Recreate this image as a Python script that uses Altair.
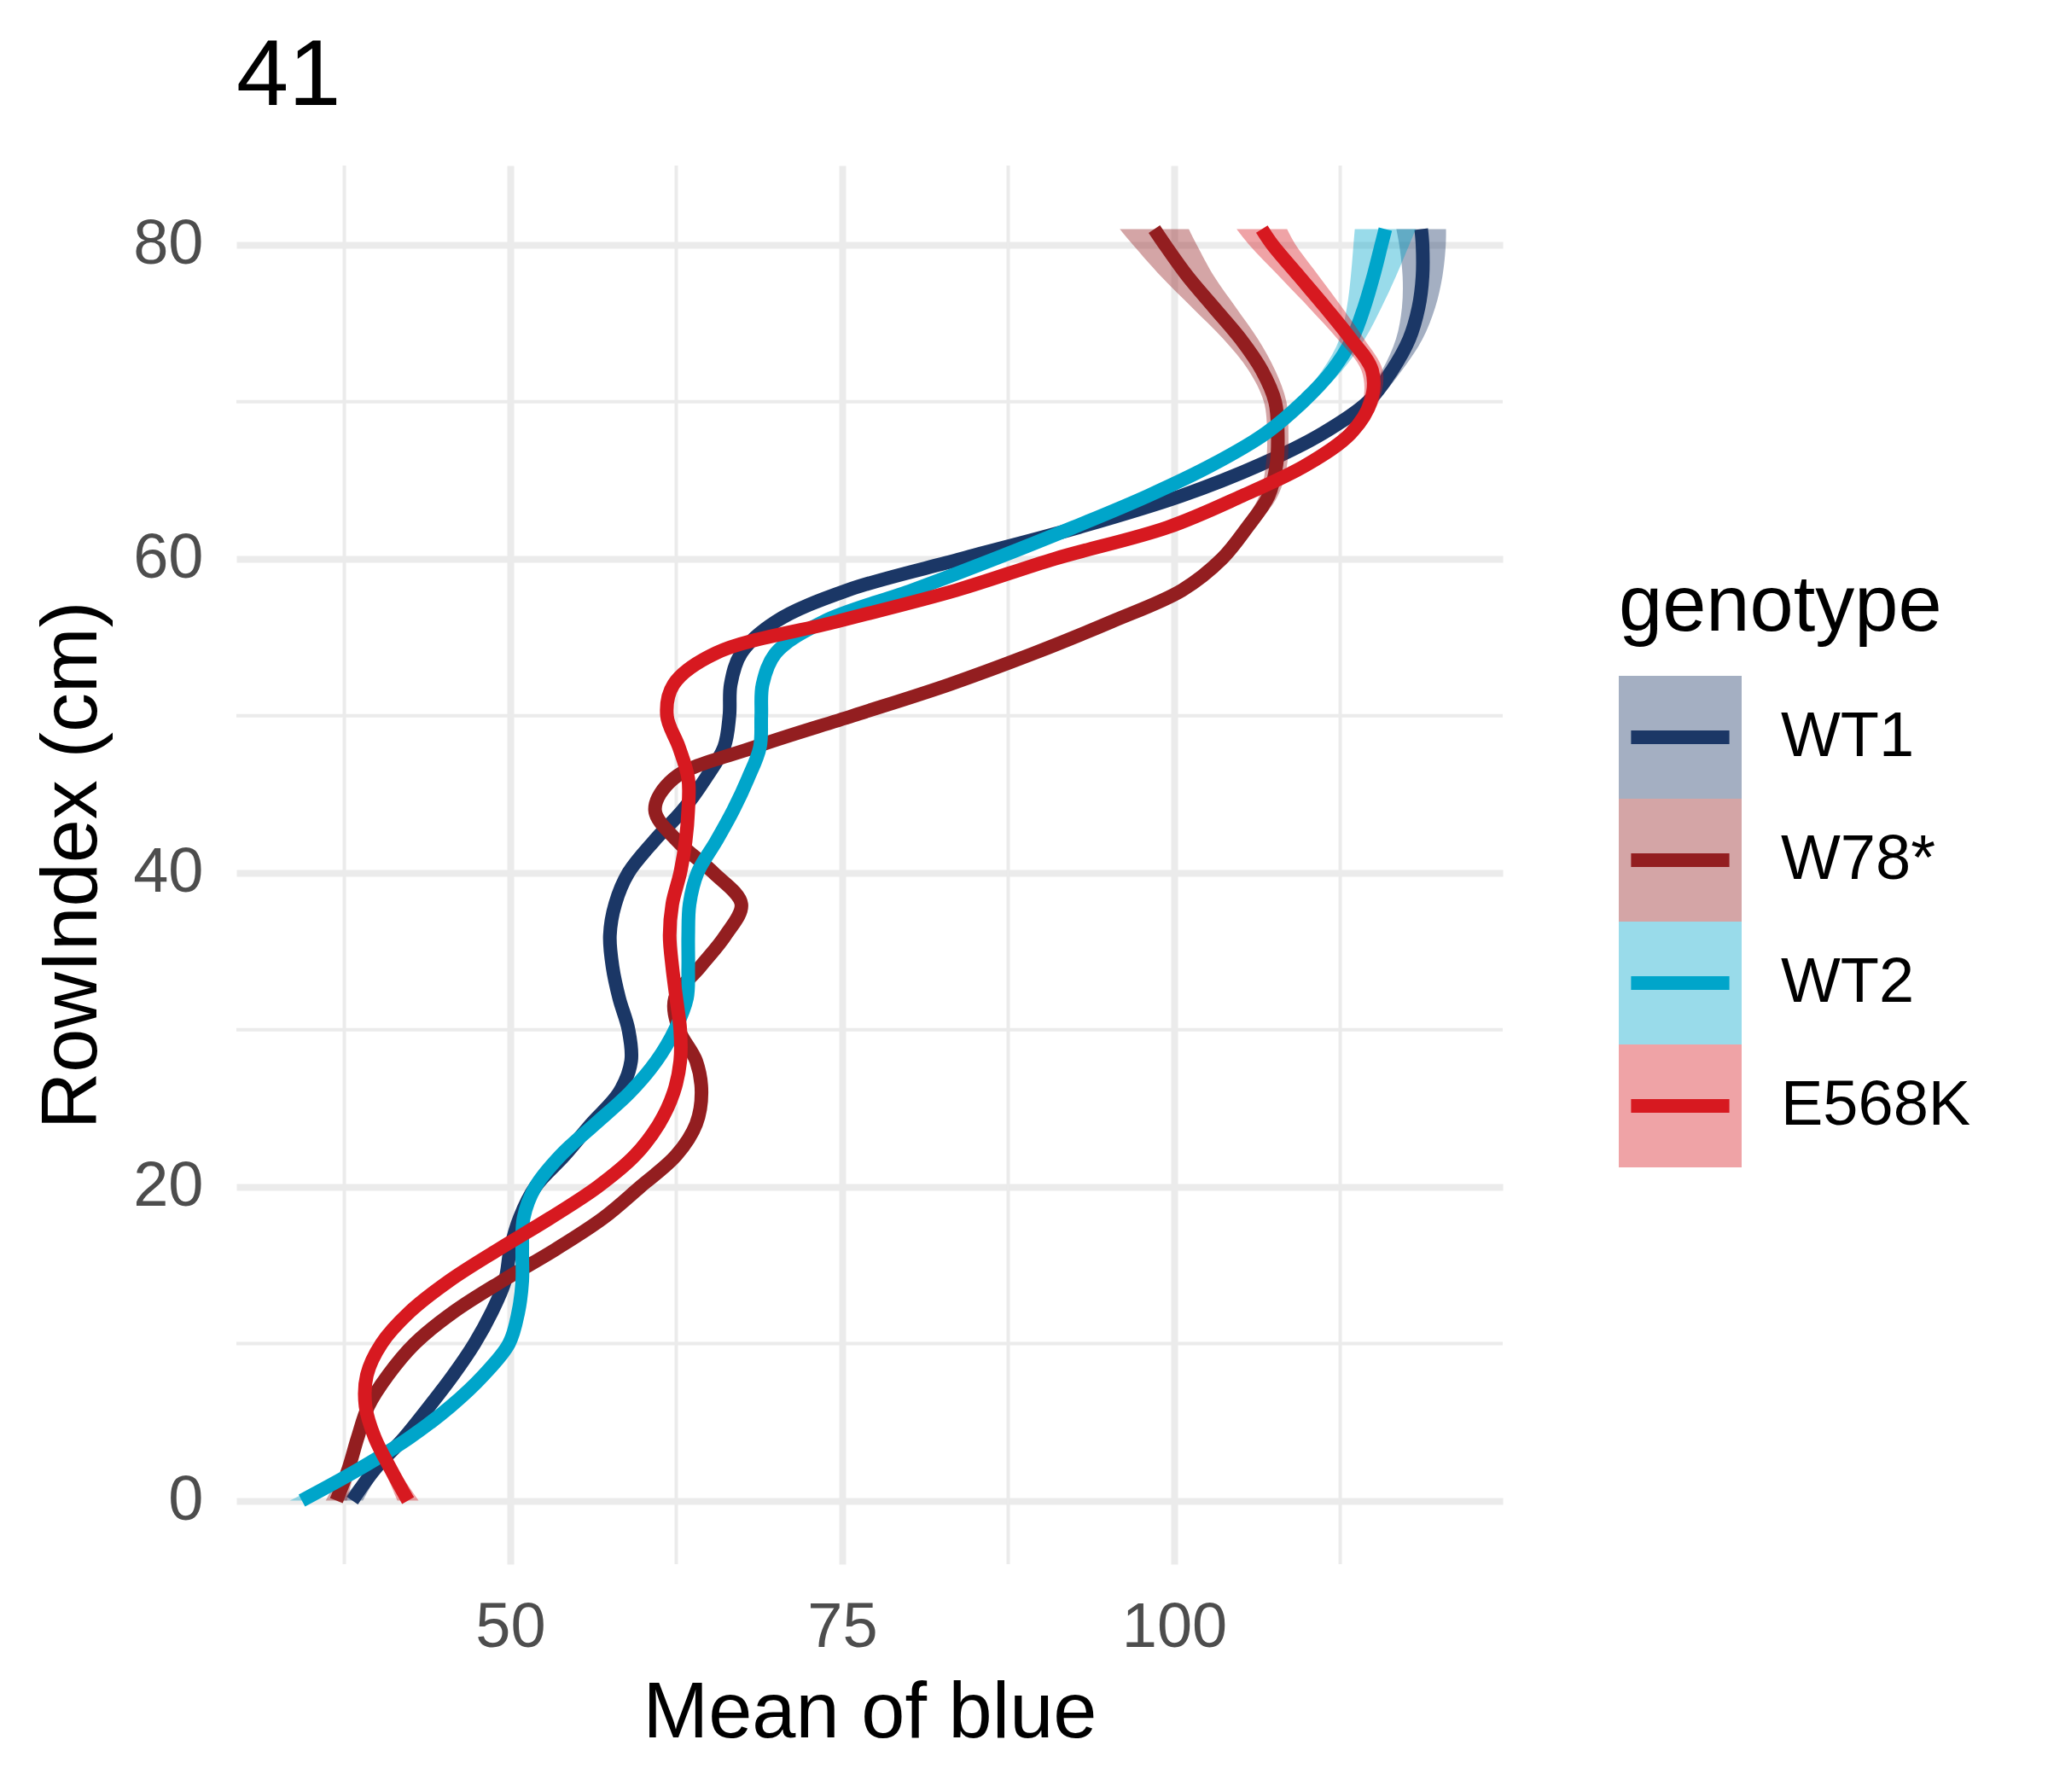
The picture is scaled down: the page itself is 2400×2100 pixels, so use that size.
import altair as alt
import pandas as pd

FONT = "Liberation Sans"

GENOTYPES = ["WT1", "W78*", "WT2", "E568K"]
COLORS = ["#1B3766", "#931E20", "#00A5CA", "#D71920"]

ROW_INDEX = [0, 2, 4, 6, 8, 10, 12, 14, 16, 18, 20, 22, 24, 26, 28, 30, 32, 34, 36, 38, 40,
             42, 44, 46, 48, 50, 52, 54, 56, 58, 60, 62, 64, 66, 68, 70, 72, 74, 76, 78, 80, 81]

WT1 = [38.1, 39.8, 42.0, 43.9, 45.7, 47.3, 48.6, 49.6, 50.0, 50.7, 51.9, 54.1, 56.1, 58.2, 59.1, 58.9,
       58.2, 57.7, 57.5, 57.9, 58.9, 60.8, 63.0, 64.7, 66.1, 66.5, 66.6, 67.4, 70.0, 75.4, 84.0,
       92.8, 100.5, 106.5, 111.2, 114.6, 116.4, 117.7, 118.4, 118.7, 118.7, 118.6]
W78 = [36.9, 37.8, 38.5, 39.3, 40.8, 42.8, 45.7, 49.4, 53.4, 57.0, 59.8, 62.5, 64.0, 64.4, 64.0, 62.7,
       62.4, 64.3, 66.2, 67.4, 65.3, 62.6, 60.9, 62.3, 68.4, 75.8, 83.1, 89.5, 95.3, 100.6, 103.6,
       105.5, 107.1, 107.7, 107.8, 107.6, 106.6, 105.0, 103.0, 101.0, 99.3, 98.5]
WT2 = [34.3, 38.6, 42.4, 45.5, 48.0, 49.9, 50.6, 50.9, 50.9, 51.0, 51.9, 53.8, 56.4, 59.0, 61.0, 62.4,
       63.3, 63.4, 63.4, 63.5, 64.1, 65.5, 66.8, 67.9, 68.8, 68.9, 69.0, 70.0, 73.6, 80.3, 86.5,
       92.4, 98.0, 102.9, 106.9, 109.7, 111.9, 113.4, 114.3, 115.0, 115.6, 115.9]
E568K = [42.3, 41.0, 39.8, 39.1, 39.2, 40.3, 42.4, 45.4, 49.1, 53.0, 56.6, 59.4, 61.2, 62.3, 62.8, 62.8,
         62.5, 62.2, 62.0, 62.2, 62.8, 63.2, 63.4, 63.4, 62.7, 61.8, 62.3, 65.5, 74.6, 83.6, 91.0,
         99.5, 105.1, 110.0, 113.3, 114.8, 114.9, 113.3, 111.4, 109.4, 107.4, 106.6]

# half-width of the confidence ribbon at each RowIndex
SE_WT1 = [0.8, 0.5, 0.35, 0.3, 0.3, 0.3, 0.3, 0.3, 0.3, 0.3, 0.3, 0.3, 0.3, 0.3, 0.3, 0.3,
          0.3, 0.3, 0.3, 0.3, 0.3, 0.3, 0.3, 0.3, 0.3, 0.3, 0.3, 0.3, 0.3, 0.3, 0.3,
          0.3, 0.35, 0.4, 0.45, 0.55, 0.75, 1.0, 1.25, 1.5, 1.75, 1.87]
SE_W78 = [0.8, 0.5, 0.35, 0.3, 0.3, 0.3, 0.3, 0.3, 0.3, 0.3, 0.3, 0.3, 0.3, 0.3, 0.3, 0.3,
          0.3, 0.3, 0.3, 0.3, 0.3, 0.3, 0.3, 0.3, 0.3, 0.3, 0.3, 0.3, 0.3, 0.35, 0.4,
          0.55, 0.7, 0.8, 0.8, 0.85, 1.0, 1.3, 1.65, 2.0, 2.4, 2.6]
SE_WT2 = [0.9, 0.55, 0.4, 0.3, 0.3, 0.3, 0.3, 0.3, 0.3, 0.3, 0.3, 0.3, 0.3, 0.3, 0.3, 0.3,
          0.3, 0.3, 0.3, 0.3, 0.3, 0.3, 0.3, 0.3, 0.3, 0.3, 0.3, 0.3, 0.3, 0.3, 0.3,
          0.3, 0.35, 0.4, 0.45, 0.55, 0.75, 0.95, 1.3, 1.7, 2.1, 2.3]
SE_E568K = [0.8, 0.5, 0.35, 0.3, 0.3, 0.3, 0.3, 0.3, 0.3, 0.3, 0.3, 0.3, 0.3, 0.3, 0.3, 0.3,
            0.3, 0.3, 0.3, 0.3, 0.3, 0.3, 0.3, 0.3, 0.3, 0.3, 0.3, 0.3, 0.3, 0.3, 0.3,
            0.35, 0.4, 0.45, 0.5, 0.6, 0.8, 1.0, 1.25, 1.5, 1.75, 1.9]

X_TICKS = [50, 75, 100]
Y_TICKS = [0, 20, 40, 60, 80]
X_MINOR = [37.5, 62.5, 87.5, 112.5]
Y_MINOR = [10, 30, 50, 70]

rows = []
for g, xs, ses in zip(GENOTYPES, [WT1, W78, WT2, E568K], [SE_WT1, SE_W78, SE_WT2, SE_E568K]):
    for y, x, s in zip(ROW_INDEX, xs, ses):
        rows.append({"genotype": g, "RowIndex": y, "blue": x, "lo": x - s, "hi": x + s})
df = pd.DataFrame(rows)

x_scale = alt.Scale(domain=[29.37, 124.74], nice=False, zero=False)
y_scale = alt.Scale(domain=[-4.05, 85.05], nice=False, zero=False)
fill_scale = alt.Scale(domain=GENOTYPES, range=COLORS)
stroke_scale = alt.Scale(range=COLORS)

x_axis = alt.Axis(values=X_TICKS, title="Mean of blue", grid=True, gridColor="#EBEBEB", gridWidth=8,
                  domain=False, ticks=False, labelFontSize=74, labelColor="#4D4D4D", labelFont=FONT,
                  labelPadding=38, titleFontSize=92, titleFont=FONT, titleColor="black",
                  titleFontWeight="normal", titlePadding=18)
y_axis = alt.Axis(values=Y_TICKS, title="RowIndex (cm)", grid=True, gridColor="#EBEBEB", gridWidth=8,
                  domain=False, ticks=False, labelFontSize=74, labelColor="#4D4D4D", labelFont=FONT,
                  labelPadding=39, titleFontSize=92, titleFont=FONT, titleColor="black",
                  titleFontWeight="normal", titlePadding=24)

common_legend = dict(title="genotype", orient="none", legendX=1620, legendY=472,
                     labelFontSize=74, labelFont=FONT, labelColor="black", labelOffset=46,
                     labelLimit=0, titleLimit=0, clipHeight=144,
                     titleFontSize=92, titleFont=FONT, titleColor="black", titleFontWeight="normal",
                     titlePadding=34, rowPadding=0, padding=0)
fill_legend = alt.Legend(symbolType="square", symbolSize=20736, symbolStrokeWidth=0, **common_legend)
stroke_legend = alt.Legend(symbolType="M-0.9,0H0.9", symbolSize=16384, symbolStrokeWidth=16,
                           symbolFillColor="transparent", labelOpacity=0, titleOpacity=0,
                           **common_legend)

base = alt.Chart(df)

minor_x = alt.Chart(pd.DataFrame({"v": X_MINOR})).mark_rule(color="#EBEBEB", strokeWidth=4).encode(
    x=alt.X("v:Q", scale=x_scale, axis=x_axis))
minor_y = alt.Chart(pd.DataFrame({"v": Y_MINOR})).mark_rule(color="#EBEBEB", strokeWidth=4).encode(
    y=alt.Y("v:Q", scale=y_scale, axis=y_axis))

layers = [minor_x, minor_y]
for g in GENOTYPES:
    sub = base.transform_filter(alt.datum.genotype == g)
    band = sub.mark_area(orient="horizontal", opacity=0.4, interpolate="catmull-rom").encode(
        y=alt.Y("RowIndex:Q", scale=y_scale, axis=y_axis),
        x=alt.X("lo:Q", scale=x_scale, axis=x_axis),
        x2="hi:Q",
        fill=alt.Fill("genotype:N", scale=fill_scale, legend=fill_legend),
    )
    line = sub.mark_line(strokeWidth=16, interpolate="catmull-rom", strokeCap="butt").encode(
        y=alt.Y("RowIndex:Q", scale=y_scale, axis=y_axis),
        x=alt.X("blue:Q", scale=x_scale, axis=x_axis),
        order=alt.Order("RowIndex:Q"),
        stroke=alt.Stroke("genotype:N", sort=GENOTYPES, scale=stroke_scale, legend=stroke_legend),
    )
    layers += [band, line]

chart = alt.layer(*layers).properties(
    width=1484, height=1639,
    background="white",
    autosize=alt.AutoSizeParams(type="none"),
    padding={"left": 269, "top": 186, "right": 620, "bottom": 250},
    title=alt.TitleParams("41", anchor="start", frame="group", fontSize=110, font=FONT,
                          fontWeight="normal", color="black", baseline="top", offset=46),
).configure_view(stroke=None)

chart.save("out.html", embed_options={"renderer": "svg", "actions": False})
